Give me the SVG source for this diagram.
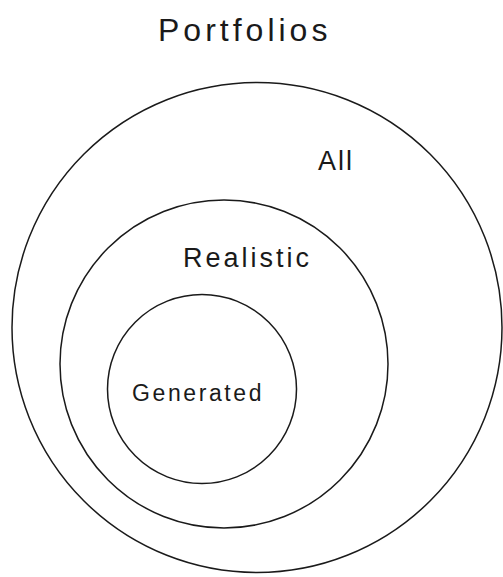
<svg xmlns="http://www.w3.org/2000/svg" width="503" height="577" viewBox="0 0 503 577">
<style>
.c{fill:none;stroke:#1a1a1a;stroke-width:1.5}
.t{font-family:"Liberation Sans",Arial,sans-serif;fill:#1a1a1a}
</style>
<rect width="503" height="577" fill="#fff"/>
<text class="t" x="158" y="41" font-size="32" letter-spacing="4">Portfolios</text>
<g id="all">
<circle class="c" cx="257" cy="327.5" r="245"/>
<text class="t" x="318" y="170" font-size="27" letter-spacing="2">All</text>
</g>
<g id="realistic">
<circle class="c" cx="224" cy="364" r="164"/>
<text class="t" x="183" y="267" font-size="27" letter-spacing="3">Realistic</text>
</g>
<g id="generated">
<circle class="c" cx="202" cy="389" r="94.5"/>
<text class="t" x="132" y="401" font-size="23" letter-spacing="2.6">Generated</text>
</g>
<g id="connectors"/>
</svg>
